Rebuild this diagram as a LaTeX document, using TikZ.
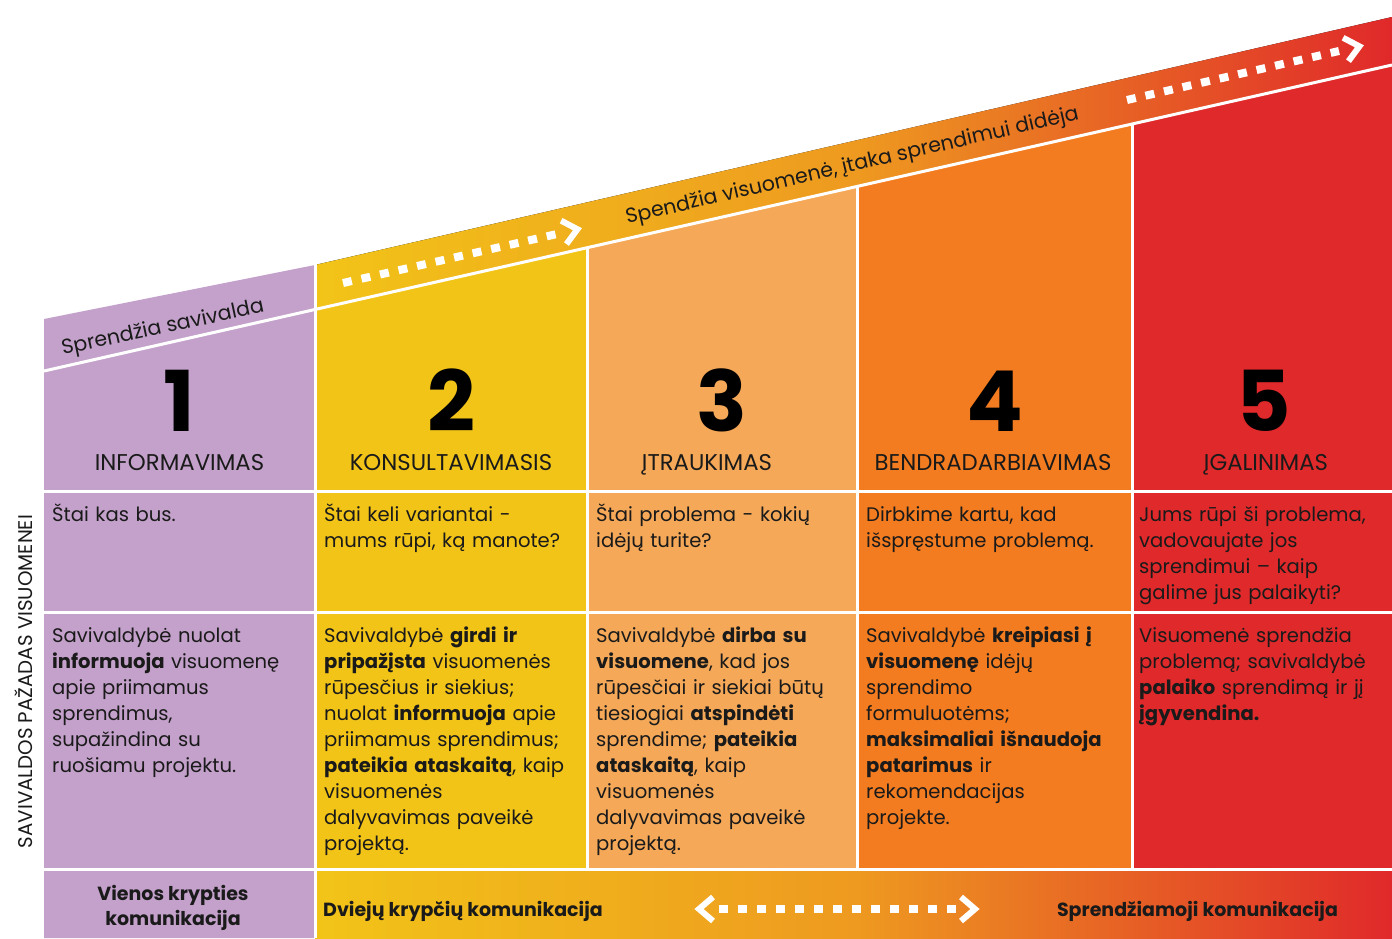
\documentclass[tikz,border=0pt]{standalone}
\usepackage{fontspec}
\setmainfont{Poppins}
\definecolor{cpurple}{HTML}{C4A1CB}
\definecolor{cyellow}{HTML}{F2C418}
\definecolor{clorange}{HTML}{F4A858}
\definecolor{corange}{HTML}{F47C20}
\definecolor{cred}{HTML}{E0292A}
\definecolor{cmid}{HTML}{EE9A20}
\definecolor{ctext}{HTML}{1A1A1A}
\begin{document}
\begin{tikzpicture}[x=1pt,y=-1pt,
  sepline/.style={white, line width=3pt},
  grad/.style={left color=cyellow, right color=cred, middle color=cmid},
  cell/.style={anchor=base west, inner sep=0pt, text width=300pt, align=left, font=\fontsize{19.6}{26}\selectfont, text=ctext},
  num/.style={anchor=base, inner sep=0pt, font=\fontsize{84}{84}\selectfont\bfseries, text=black},
  head/.style={anchor=base, inner sep=0pt, font=\fontsize{22.8}{26}\selectfont, text=ctext},
  band/.style={anchor=base, inner sep=0pt, font=\fontsize{20.5}{24}\selectfont, text=ctext},
  foot/.style={anchor=base, inner sep=0pt, font=\fontsize{19}{25.5}\selectfont\bfseries, text=ctext, align=center},
  dots/.style={white, line width=8pt, dash pattern=on 9pt off 10pt},
  pics/chevron/.style={code={\draw[white, line width=6pt, miter limit=10] (-7,-12) -- (7,0) -- (-7,12);}}
]
\useasboundingbox (0,0) rectangle (1392,938);
\fill[white] (0,0) rectangle (1392,938);

% column fills
\fill[cpurple] (44,319) -- (315,265) -- (315,938) -- (44,938) -- cycle;
\fill[grad] (315,265) -- (1392,17) -- (1392,65) -- (315,309.5) -- cycle;
\fill[cyellow] (315,309.5) -- (587,247.7) -- (587,869) -- (315,869) -- cycle;
\fill[clorange] (587,247.7) -- (857,186.4) -- (857,869) -- (587,869) -- cycle;
\fill[corange] (857,186.4) -- (1132,124) -- (1132,869) -- (857,869) -- cycle;
\fill[cred] (1132,124) -- (1392,65) -- (1392,869) -- (1132,869) -- cycle;
\fill[grad] (315,869) rectangle (1392,938);

% white separators
\draw[sepline] (44,371) -- (1392,65);
\draw[sepline] (315,263) -- (315,938);
\draw[sepline] (587,247.7) -- (587,869);
\draw[sepline] (857,186.4) -- (857,869);
\draw[sepline] (1132,124) -- (1132,869);
\draw[sepline] (44,491) -- (1392,491);
\draw[sepline] (44,612) -- (1392,612);
\draw[sepline] (44,869) -- (1392,869);

% band texts
\node[band, rotate=12] (bt1) at (164,333.5) {Sprendžia savivalda};
\node[band, rotate=13] (bt2) at (853.5,171.5) {Spendžia visuomenė, įtaka sprendimui didėja};

% dotted arrows in the band
\coordinate (a1s) at (343,283);
\coordinate (a1e) at (557,234);
\coordinate (a1c) at (570.6,230.8);
\draw[dots] (a1s) -- (a1e);
\pic[rotate=12.9] at (a1c) {chevron};
\coordinate (a2s) at (1127,100);
\coordinate (a2e) at (1339,51);
\coordinate (a2c) at (1352.6,47.9);
\draw[dots] (a2s) -- (a2e);
\pic[rotate=13] at (a2c) {chevron};

% numbers
\node[num] (n1) at (179.5,431) {1};
\node[num] (n2) at (451,431) {2};
\node[num] (n3) at (722,431) {3};
\node[num] (n4) at (994.5,431) {4};
\node[num] (n5) at (1264,431) {5};

% headings
\node[head] (h1) at (179.5,470) {INFORMAVIMAS};
\node[head] (h2) at (451,470) {KONSULTAVIMASIS};
\node[head] (h3) at (707,470) {ĮTRAUKIMAS};
\node[head] (h4) at (993,470) {BENDRADARBIAVIMAS};
\node[head] (h5) at (1266,470) {ĮGALINIMAS};

% row 2
\node[cell] (r21) at (52,521) {Štai kas bus.};
\node[cell] (r22) at (324,521) {Štai keli variantai -\\mums rūpi, ką manote?};
\node[cell] (r23) at (596,521) {Štai problema - kokių\\idėjų turite?};
\node[cell] (r24) at (866,521) {Dirbkime kartu, kad\\išspręstume problemą.};
\node[cell] (r25) at (1139,521) {Jums rūpi ši problema,\\vadovaujate jos\\sprendimui – kaip\\galime jus palaikyti?};

% row 3
\node[cell] (r31) at (52,642) {Savivaldybė nuolat\\\textbf{informuoja} visuomenę\\apie priimamus\\sprendimus,\\supažindina su\\ruošiamu projektu.};
\node[cell] (r32) at (324,642) {Savivaldybė \textbf{girdi ir}\\\textbf{pripažįsta} visuomenės\\rūpesčius ir siekius;\\nuolat \textbf{informuoja} apie\\priimamus sprendimus;\\\textbf{pateikia ataskaitą}, kaip\\visuomenės\\dalyvavimas paveikė\\projektą.};
\node[cell] (r33) at (596,642) {Savivaldybė \textbf{dirba su}\\\textbf{visuomene}, kad jos\\rūpesčiai ir siekiai būtų\\tiesiogiai \textbf{atspindėti}\\sprendime; \textbf{pateikia}\\\textbf{ataskaitą}, kaip\\visuomenės\\dalyvavimas paveikė\\projektą.};
\node[cell] (r34) at (866,642) {Savivaldybė \textbf{kreipiasi į}\\\textbf{visuomenę} idėjų\\sprendimo\\formuluotėms;\\\textbf{maksimaliai išnaudoja}\\\textbf{patarimus} ir\\rekomendacijas\\projekte.};
\node[cell] (r35) at (1139,642) {Visuomenė sprendžia\\problemą; savivaldybė\\\textbf{palaiko} sprendimą ir jį\\\textbf{įgyvendina.}};

% side label
\node[anchor=base, inner sep=0pt, rotate=90, font=\fontsize{19.8}{22}\selectfont, text=ctext] (side) at (32,681.5) {SAVIVALDOS PAŽADAS VISUOMENEI};

% bottom row
\node[foot] (f1) at (173,925.5) {Vienos krypties\\komunikacija};
\node[foot, anchor=base west] (f2) at (323,916) {Dviejų krypčių komunikacija};
\node[foot] (f3) at (1197.5,916) {Sprendžiamoji komunikacija};
\coordinate (b1) at (719,909);
\coordinate (b2) at (957,909);
\draw[dots] (b1) -- (b2);
\pic[rotate=180] at (706,909) {chevron};
\pic at (968,909) {chevron};
\end{tikzpicture}
\end{document}
